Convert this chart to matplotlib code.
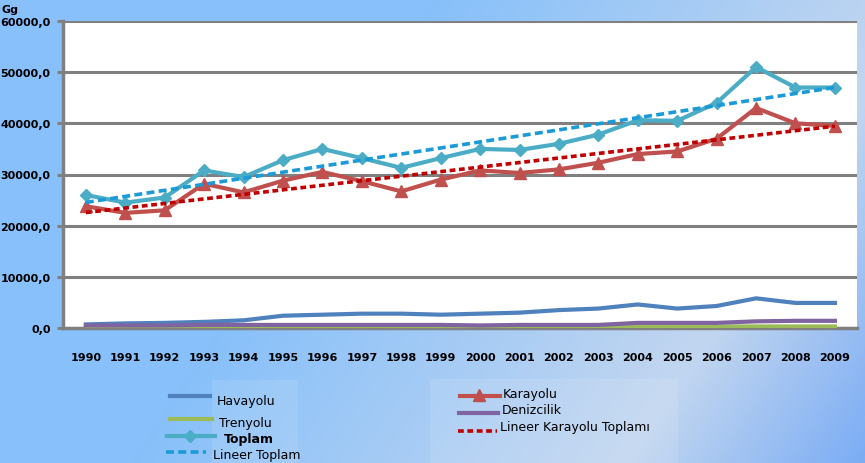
import numpy as np
import matplotlib.pyplot as plt
from matplotlib.lines import Line2D
from matplotlib.patches import Rectangle

# Data (Gg)
years = [str(y) for y in range(1990, 2010)]
havayolu = [700, 900, 1000, 1200, 1500, 2400, 2600, 2800, 2800, 2600,
            2800, 3000, 3500, 3800, 4600, 3800, 4300, 5800, 4900, 4900]
karayolu = [23800, 22500, 23000, 28200, 26500, 28800, 30500, 28700, 26700, 29000,
            30800, 30300, 31000, 32300, 34000, 34500, 37000, 43000, 40000, 39500]
trenyolu = [150, 150, 150, 150, 150, 150, 150, 150, 150, 150,
            150, 150, 150, 200, 300, 300, 300, 300, 300, 300]
denizcilik = [500, 500, 500, 600, 600, 600, 600, 600, 600, 600,
              500, 600, 600, 600, 1000, 1000, 1000, 1300, 1400, 1400]
toplam = [26000, 24500, 25500, 30800, 29500, 32800, 35000, 33200, 31300, 33200,
          35000, 34800, 36000, 37800, 40600, 40500, 44000, 51000, 47000, 47000]
yticks = [0, 10000, 20000, 30000, 40000, 50000, 60000]

c_hava = '#4F81BD'
c_kara = '#C0504D'
c_tren = '#9BBB59'
c_deniz = '#8064A2'
c_top = '#4BACC6'
c_ltop = '#1A9AD6'
c_lkara = '#C00000'

x = np.arange(len(years))
fit_top = np.polyval(np.polyfit(x, toplam, 1), x)
fit_kara = np.polyval(np.polyfit(x, karayolu, 1), x)

W, H = 865, 464
fig = plt.figure(figsize=(W / 100, H / 100), dpi=100)

# gradient background: blue on the left, lighter band to the right, blue again bottom-right
bg = fig.add_axes([0, 0, 1, 1], zorder=-10)
px, py = np.meshgrid(np.arange(W) / W, np.arange(H) / H)
u = px + 0.35 * py
blue = np.array([135, 192, 250]) / 255
light = np.array([192, 213, 240]) / 255
blue2 = np.array([122, 172, 245]) / 255
a = np.clip((u - 0.5) / 0.55, 0, 1)[..., None]
b = np.clip((u - 1.08) / 0.27, 0, 1)[..., None]
img = blue * (1 - a) + light * a
img = img * (1 - b) + blue2 * b
bg.imshow(img, extent=[0, W, H, 0], aspect='auto', origin='upper')
bg.set_xlim(0, W)
bg.set_ylim(H, 0)
bg.axis('off')

ax = fig.add_axes([63 / W, (H - 329) / H, (857 - 63) / W, (329 - 22) / H])
ax.set_facecolor('white')

lw = 3.0
ax.plot(x, havayolu, color=c_hava, lw=lw, zorder=3)
ax.plot(x, trenyolu, color=c_tren, lw=lw, zorder=3)
ax.plot(x, denizcilik, color=c_deniz, lw=lw, zorder=3)
ax.plot(x, karayolu, color=c_kara, lw=lw, marker='^', ms=8, zorder=3)
ax.plot(x, toplam, color=c_top, lw=lw, marker='D', ms=6.5, zorder=4)
ax.plot(x, fit_top, color=c_ltop, lw=2.6, ls=(0, (2.2, 1.2)), zorder=5)
ax.plot(x, fit_kara, color=c_lkara, lw=2.6, ls=(0, (1.6, 1.0)), zorder=5)

ax.set_xlim(-0.58, 19.56)
ax.set_ylim(0, 60000)
ax.set_yticks(yticks)
ax.set_yticklabels([f'{v:.1f}'.replace('.', ',') for v in yticks],
                   fontsize=8, fontweight='bold')
ax.set_xticks(x)
ax.set_xticklabels(years, fontsize=8, fontweight='bold')
ax.tick_params(axis='x', length=0, pad=17)
ax.tick_params(axis='y', length=4, width=2.2, color='#808080', pad=5)
ax.grid(axis='y', color='#808080', lw=2.2)
ax.set_axisbelow(True)
for s in ['top', 'right']:
    ax.spines[s].set_visible(False)
for s in ['left', 'bottom']:
    ax.spines[s].set_color('#808080')
    ax.spines[s].set_linewidth(2.5)

fig.text(2 / W, 1 - 10 / H, 'Gg', fontsize=8, fontweight='bold', va='center')

# legend drawn in pixel coordinates
lg = fig.add_axes([0, 0, 1, 1], zorder=10)
lg.set_xlim(0, W)
lg.set_ylim(H, 0)
lg.axis('off')
lg.add_patch(Rectangle((212, 381), 86, 83, color='white', alpha=0.1, lw=0))
lg.add_patch(Rectangle((430, 380), 248, 84, color='white', alpha=0.1, lw=0))

def entry(x0, x1, y, tx, ty, label, color, **kw):
    lg.add_line(Line2D([x0, x1], [y, y], color=color, **kw))
    lg.text(tx, ty, label, fontsize=9, va='center', ha='left')

entry(170, 210, 397, 217, 402, 'Havayolu', c_hava, lw=3)
entry(170, 212, 420, 219, 424, 'Trenyolu', c_tren, lw=3)
lg.add_line(Line2D([167, 215], [437, 437], color=c_top, lw=3))
lg.add_line(Line2D([190], [437], color=c_top, marker='D', ms=6))
lg.text(224, 440, 'Toplam', fontsize=9, fontweight='bold', va='center')
entry(166, 206, 453, 213, 456, 'Lineer Toplam', c_ltop, lw=2.6, ls=(0, (2.2, 1.2)))
lg.add_line(Line2D([460, 500], [397, 397], color=c_kara, lw=3))
lg.add_line(Line2D([479], [396], color=c_kara, marker='^', ms=8))
lg.text(503, 395, 'Karayolu', fontsize=9, va='center')
entry(459, 498, 414, 502, 411, 'Denizcilik', c_deniz, lw=3)
entry(458, 497, 432, 500, 428, 'Lineer Karayolu Toplamı', c_lkara, lw=2.6, ls=(0, (1.6, 1.0)))

fig.savefig('out.png', dpi=100)
